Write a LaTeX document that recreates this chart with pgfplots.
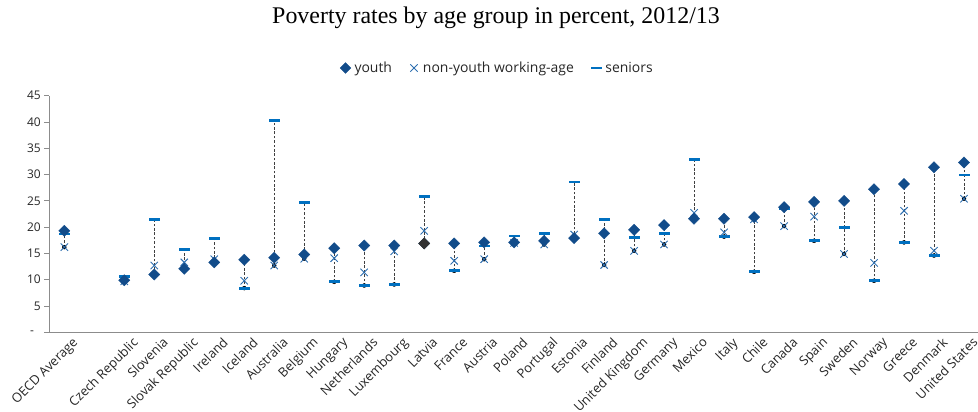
\documentclass[border=0pt]{standalone}
\usepackage{pgfplots}
\pgfplotsset{compat=1.18}
\usepackage{pgfplotstable}
\usepackage{fontspec}
\setmainfont{Open Sans}
\newfontfamily\titlefont{Liberation Serif}

\definecolor{youthblue}{HTML}{124C8A}
\definecolor{crossblue}{HTML}{2E6FB0}
\definecolor{seniorblue}{HTML}{0070C0}
\definecolor{axisgray}{HTML}{8C8C8C}

% x  youth  non-youth working-age  seniors
\pgfplotstableread{
x  youth other seniors
0  19.3  16.2  18.7
2  9.9   9.7   10.6
3  11.0  12.7  21.5
4  12.1  13.3  15.7
5  13.3  13.9  17.9
6  13.8  9.8   8.4
7  14.2  12.7  40.3
8  14.8  14.0  24.7
9  16.0  14.1  9.6
10 16.5  11.4  8.9
11 16.5  15.4  9.1
12 16.9  19.3  25.8
13 16.9  13.6  11.7
14 17.1  13.9  16.4
15 17.1  17.0  18.3
16 17.4  16.7  18.8
17 17.9  18.6  28.6
18 18.8  12.8  21.4
19 19.5  15.5  18.0
20 20.4  16.7  18.8
21 21.6  22.7  32.8
22 21.6  19.0  18.2
23 21.9  21.5  11.5
24 23.8  20.2  23.6
25 24.8  22.0  17.4
26 25.0  14.9  20.0
27 27.2  13.2  9.8
28 28.2  23.1  17.1
29 31.4  15.5  14.6
30 32.3  25.4  29.9
}\rates

\begin{document}
\begin{tikzpicture}
\path[use as bounding box] (0,0) rectangle (978bp,412bp);
\node[font=\titlefont\fontsize{24}{28}\selectfont] at (496bp,394bp)
  {Poverty rates by age group in percent, 2012/13};
\begin{axis}[
  at={(49.3bp,79.7bp)}, anchor=south west,
  scale only axis, width=929.7bp, height=236.6bp,
  xmin=-0.5, xmax=30.5, ymin=0, ymax=45,
  axis x line*=bottom, axis y line*=left,
  axis line style={axisgray, line width=0.8pt},
  every outer x axis line/.append style={-},
  every outer y axis line/.append style={-},
  xtick={0,...,30},
  xticklabels={OECD Average,,Czech Republic,Slovenia,Slovak Republic,Ireland,Iceland,Australia,Belgium,Hungary,Netherlands,Luxembourg,Latvia,France,Austria,Poland,Portugal,Estonia,Finland,United Kingdom,Germany,Mexico,Italy,Chile,Canada,Spain,Sweden,Norway,Greece,Denmark,United States},
  x tick style={draw=none},
  xticklabel style={rotate=45, anchor=north east, font=\fontsize{13}{14}\selectfont, text=black!85, inner sep=0pt, xshift=6bp, yshift=-4.5bp},
  ytick={0,5,...,45},
  yticklabels={-\hphantom{0},5,10,15,20,25,30,35,40,45},
  y tick style={axisgray, line width=0.8pt},
  tick align=outside, major tick length=5bp,
  yticklabel style={font=\fontsize{12}{13}\selectfont, text=black!85},
  legend columns=3,
  legend style={at={(0.482,1.117)}, anchor=center, draw=none, fill=none,
    font=\fontsize{14}{15}\selectfont, text=black!85,
    /tikz/every even column/.append style={column sep=15bp}},
  legend image code/.code={\path[draw=none, fill=none] (0bp,0bp) (12bp,0bp); \draw[#1] plot coordinates {(5bp,0bp)};},
  clip=false,
]
% dashed range line from lowest to highest rate of each country
\addplot[only marks, mark=none, forget plot,
  error bars/.cd, y dir=plus, y explicit,
  error mark=none,
  error bar style={black!75, line width=0.55pt, dash pattern=on 2.6pt off 1.8pt}]
  table[x=x,
        y expr={min(\thisrow{youth},\thisrow{other},\thisrow{seniors})},
        y error plus expr={max(\thisrow{youth},\thisrow{other},\thisrow{seniors})-min(\thisrow{youth},\thisrow{other},\thisrow{seniors})}]
  {\rates};
% seniors
\addplot[only marks, forget plot, mark=-, mark size=5.5bp,
  mark options={seniorblue, line width=2.8bp}]
  table[x=x, y=seniors] {\rates};
% non-youth working-age
\addplot[only marks, forget plot, mark=x, mark size=5.2bp,
  mark options={crossblue, line width=0.9bp}]
  table[x=x, y=other] {\rates};
% youth
\addplot[only marks, forget plot, mark=square*, mark size=4bp,
  mark options={rotate=45, fill=youthblue, draw=youthblue, line width=0.3bp}]
  table[x=x, y=youth] {\rates};
% Latvia's youth marker in a darker shade
\addplot[only marks, forget plot, mark=square*, mark size=4bp,
  mark options={rotate=45, fill=black!80, draw=black!80, line width=0.3bp}]
  coordinates {(12,16.9)};

\addlegendimage{only marks, mark=square*, mark size=3.8bp, mark options={rotate=45, fill=youthblue, draw=youthblue}}
\addlegendentry{youth}
\addlegendimage{only marks, mark=x, mark size=5.2bp, mark options={crossblue, line width=0.9bp}}
\addlegendentry{non-youth working-age}
\addlegendimage{only marks, mark=-, mark size=5.5bp, mark options={seniorblue, line width=2.8bp}}
\addlegendentry{seniors}
\end{axis}
\end{tikzpicture}
\end{document}
